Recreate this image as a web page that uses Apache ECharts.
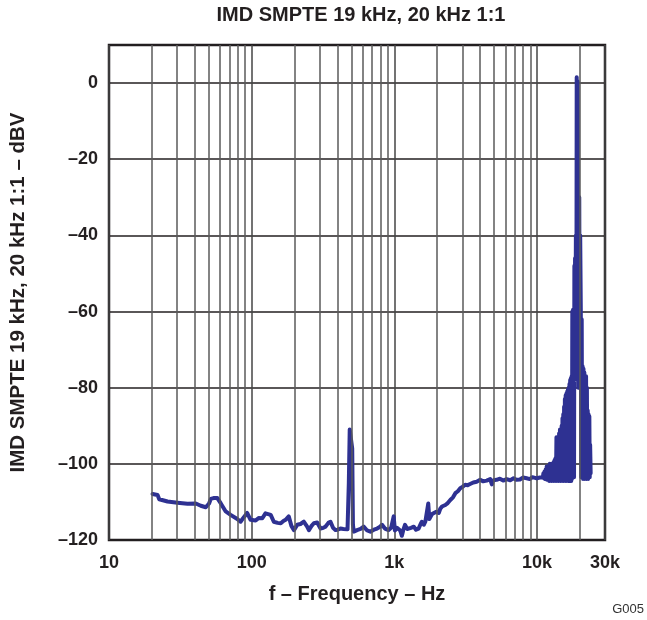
<!DOCTYPE html>
<html>
<head>
<meta charset="utf-8">
<script src="https://cdn.jsdelivr.net/npm/echarts@6/dist/echarts.min.js"></script>
<style>
html,body{margin:0;padding:0;background:#fff;}
#chart{width:647px;height:620px;}
</style>
</head>
<body>
<div id="chart"></div>
<script>
// ---- data ----
const titleText = 'IMD SMPTE 19 kHz, 20 kHz 1:1';
const yName = 'IMD SMPTE 19 kHz, 20 kHz 1:1 \u2013 dBV';
const xName = 'f \u2013 Frequency \u2013 Hz';
const xTickLabels = {10: '10', 100: '100', 1000: '1k', 10000: '10k', 30000: '30k'};
const minorGridFreqs = [20,30,40,50,60,70,80,90,200,300,400,500,600,700,800,900,
  2000,3000,4000,5000,6000,7000,8000,9000,20000];

// noise floor, 20 Hz .. 10.5 kHz  [Hz, dBV]
const floorFreq = [20.2,21.9,22.5,25.7,30.2,35.5,40.6,44,47.7,50.3,51.7,54,57.5,60.8,65.8,71.2,79.3,83.6,88.2,93,98.3,
  106.6,112,118.8,125,129,136,143,152,160,167,173,182,190,198,209,220,232,245,252,263,273,288,304,318,329,345,357,372,387,400,419,440,454,470,
  480,487,500,507,513,520,548,580,610,645,679,720,757,790,820,860,912,950,970,990,1010,1045,1076,1100,1130,1160,1190,1230,1260,1310,1370,1420,1480,
  1530,1560,1610,1650,1700,1730,1760,1790,1840,1890,1970,2050,2100,2160,2220,2280,2370,2470,2580,2680,2790,2900,3020,3140,3270,3400,3580,3780,
  4000,4200,4440,4700,4830,4950,5220,5500,5800,6130,6500,6850,7200,7600,8000,8470,8900,9300,9960,10500];
const floorDbv = [-107.9,-108.2,-109.3,-109.9,-110.2,-110.5,-110.4,-111,-111.4,-110.4,-109.2,-109,-109,-110.4,-112.5,-113.4,-114.5,-115.2,-114,-112.9,-114.7,
  -114.9,-114.2,-114.3,-113,-112.5,-113.4,-115.2,-115.5,-115.6,-115,-114.7,-113.8,-116.3,-117.4,-116,-115.8,-115.2,-116.5,-117.4,-116.3,-115.6,-115.4,-117,-116.8,-116.5,-115.5,-115.2,-116.8,-117.4,-117.3,-117,-117.1,-117.4,-117.2,
  -105,-91,-91,-96,-116,-117.8,-117.4,-117.1,-116.5,-117.5,-117.8,-117.3,-117,-116.6,-116,-117,-117.4,-116.8,-117.3,-113.8,-117.5,-116.8,-116.5,-117.5,-118.9,-117.2,-116,-117.1,-117.4,-116.8,-116.5,-117.3,-117,
  -115.8,-115.2,-116,-115.2,-114.8,-110.4,-114.5,-114.3,-113.2,-113.4,-112.6,-112.9,-111.8,-111.2,-111.6,-110.8,-110.3,-109.5,-108.8,-107.7,-107.2,-106.4,-106,-105.5,-105.6,-105.3,-104.9,-104.7,
  -104.2,-104.6,-104.4,-104,-105.4,-104.3,-104.2,-103.9,-104.4,-104,-104.3,-103.8,-104.2,-104.1,-103.6,-103.8,-104,-103.5,-103.8,-103.6];

// tone region (IMD products and the 19/20 kHz tones), 11 kHz .. 23.8 kHz
const toneFreq = [11000,11100,11200,11300,11400,11500,11600,11700,11800,11900,12000,12100,12200,12300,12400,12500,12600,12700,12800,12900,
  13000,13100,13200,13300,13400,13500,13600,13700,13800,13900,14000,14100,14200,14300,14400,14500,14600,14700,14800,14900,
  15000,15100,15200,15300,15400,15500,15600,15700,15800,15900,16000,16100,16200,16300,16400,16500,16600,16700,16800,16900,
  17000,17100,17200,17300,17400,17500,17600,17700,17800,17900,18000,18100,18200,18300,18400,18500,18600,18750,18900,19000,
  19150,19300,19500,19650,19800,19950,20100,20300,20450,20600,20750,20900,21050,21200,21350,21500,21650,21800,21950,22100,
  22250,22400,22550,22700,22850,23000,23150,23300,23450,23600,23800];
const toneDbv = [-103.5,-102.5,-103.8,-102,-104,-101.5,-104,-100.7,-104.2,-101,-104,-100.5,-104.5,-100,-104,-101,-104.5,-100,-104,-100.5,
  -104.5,-99.5,-104,-99,-104.5,-98.5,-104,-93,-104.5,-94,-104,-93,-104.5,-92,-104,-91,-104.5,-91,-104,-90,
  -104.5,-88,-104,-87,-104.5,-85,-104,-83,-104.5,-82,-104,-81.5,-104.5,-81,-104,-80.5,-104.5,-80,-104,-79,
  -104.5,-78,-104,-77.5,-104.5,-77,-104,-60,-103.5,-59.5,-103.5,-62,-103.5,-48,-78,-46,-76,-40,-70,1.5,
  -60,0.5,-80,-35,-30,-80,-40,-59.5,-103.5,-62,-103.5,-74.4,-104,-75,-103.5,-76,-104,-78,-103.5,-77,
  -104,-80,-103.5,-86,-104,-87,-103.5,-87.5,-103.5,-95,-102.5];

const seriesData = floorFreq.map((f, i) => [f, floorDbv[i]])
  .concat(toneFreq.map((f, i) => [f, toneDbv[i]]));

const chart = echarts.init(document.getElementById('chart'), null, {renderer: 'canvas'});
const FONT = '"Liberation Sans", Arial, sans-serif';
const TXT = '#231f20';

chart.setOption({
  animation: false,
  backgroundColor: '#fff',
  title: {
    text: titleText,
    left: 356, top: 0, textAlign: 'center',
    textStyle: {fontFamily: FONT, fontWeight: 'bold', fontSize: 20, color: TXT}
  },
  graphic: [{
    type: 'text', right: 3, top: 603,
    style: {text: 'G005', fontFamily: FONT, fontSize: 13, fill: '#333'}
  }],
  grid: {left: 108, right: 42, top: 45, bottom: 80, show: true,
    borderColor: '#231f20', borderWidth: 2.5, backgroundColor: 'transparent'},
  xAxis: {
    type: 'log', logBase: 10, min: 10, max: 30000,
    name: xName, nameLocation: 'middle', nameGap: 44,
    nameTextStyle: {fontFamily: FONT, fontWeight: 'bold', fontSize: 20, color: TXT},
    axisLine: {show: false}, axisTick: {show: false},
    axisLabel: {
      fontFamily: FONT, fontWeight: 'bold', fontSize: 18, color: TXT, margin: 14,
      showMinLabel: true, showMaxLabel: true,
      formatter: v => xTickLabels[Math.round(v)] || ''
    },
    splitLine: {show: true, lineStyle: {color: '#444', width: 1.5}}
  },
  yAxis: {
    type: 'value', min: -120, max: 10, interval: 20,
    name: yName, nameLocation: 'middle', nameGap: 80, nameRotate: 90,
    nameTextStyle: {fontFamily: FONT, fontWeight: 'bold', fontSize: 20.5, color: TXT},
    axisLine: {show: false}, axisTick: {show: false},
    axisLabel: {
      fontFamily: FONT, fontWeight: 'bold', fontSize: 18, color: TXT, margin: 11,
      formatter: v => (v > 0 ? '' : (v < 0 ? '\u2013' + Math.abs(v) : '0'))
    },
    splitLine: {show: true, lineStyle: {color: '#231f20', width: 1.5}}
  },
  series: [
    {
      type: 'line', data: [], z: 1, silent: true,
      markLine: {
        silent: true, symbol: 'none', animation: false,
        label: {show: false},
        lineStyle: {color: '#5a5a5a', width: 1.5, type: 'solid'},
        emphasis: {disabled: true},
        data: minorGridFreqs.map(f => ({xAxis: f}))
      }
    },
    {
      type: 'line', data: seriesData, z: 3, showSymbol: false, silent: true,
      lineStyle: {color: '#2e3192', width: 4, join: 'round', cap: 'round'},
      itemStyle: {color: '#2e3192'}
    }
  ]
});
</script>
</body>
</html>
